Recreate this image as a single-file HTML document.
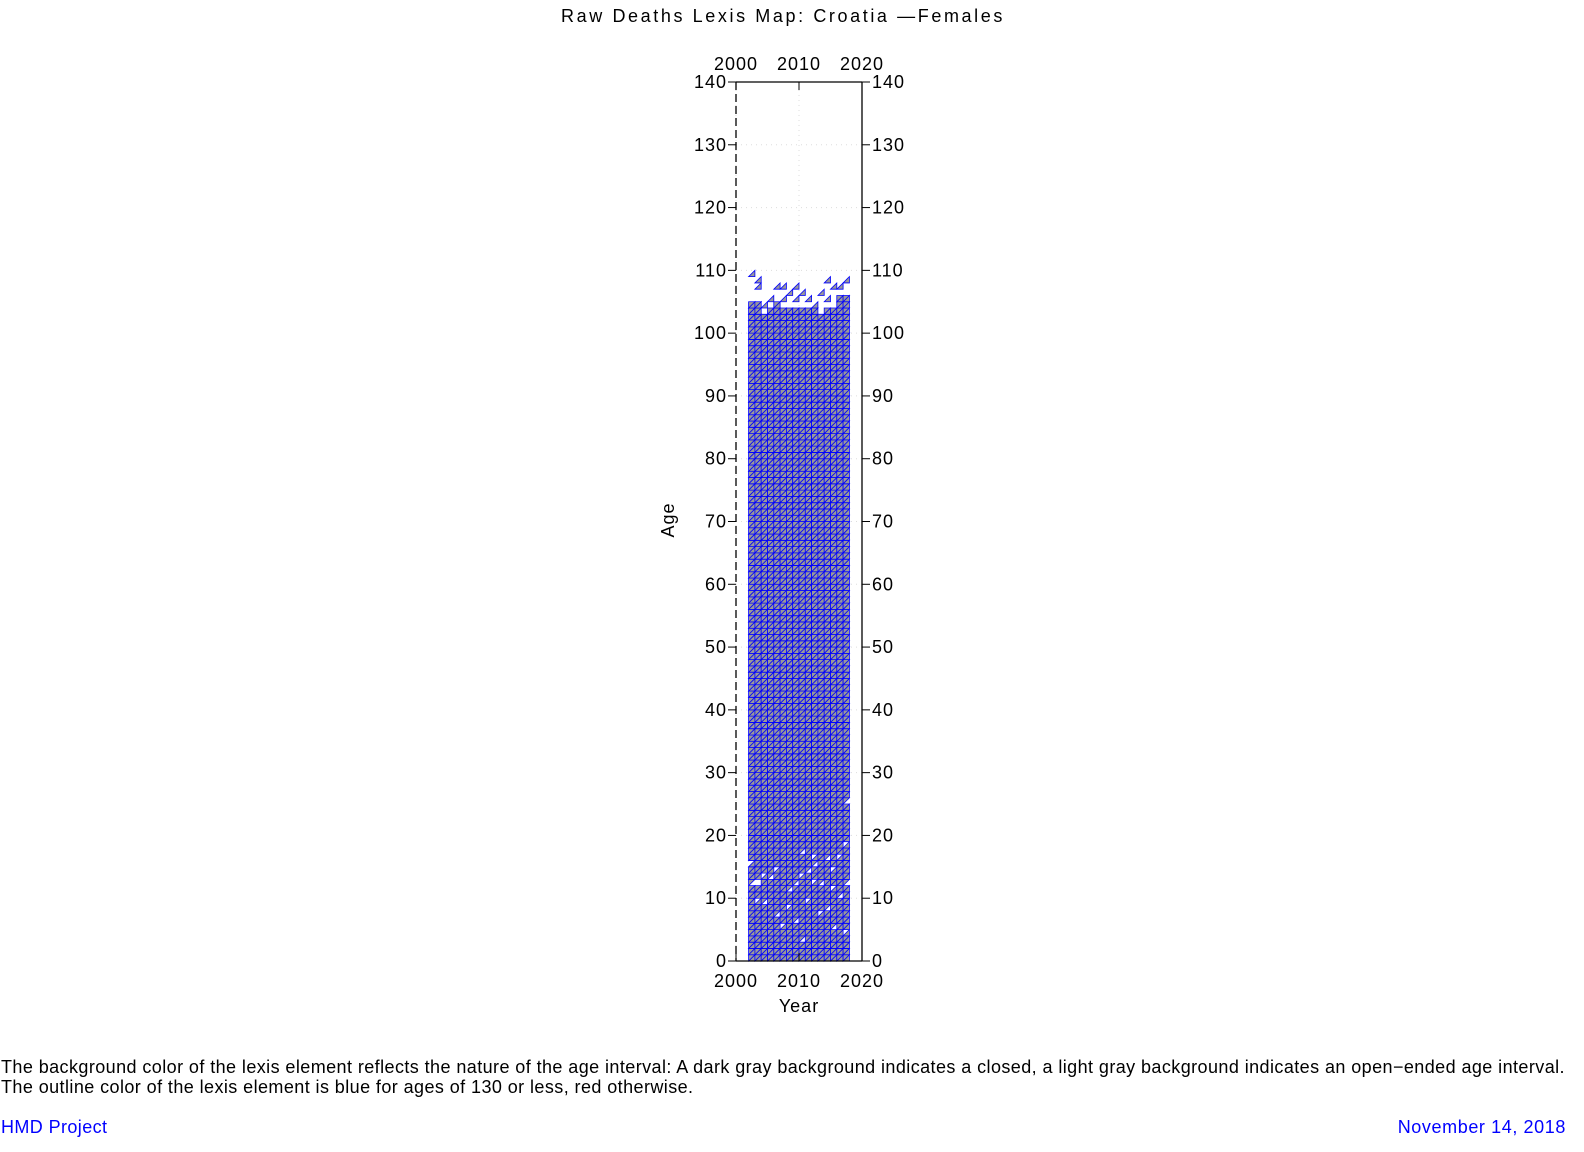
<!DOCTYPE html>
<html><head><meta charset="utf-8">
<style>
body{margin:0;background:#fff;width:1584px;height:1152px;overflow:hidden;font-family:"Liberation Sans",sans-serif;}
svg{position:absolute;left:0;top:0}
text{font-family:"Liberation Sans",sans-serif;font-size:18px;fill:#000;letter-spacing:1px}
</style></head>
<body>
<svg id="chart" width="1584" height="1152" xmlns="http://www.w3.org/2000/svg">
<text x="783" y="22" text-anchor="middle" font-size="19" style="letter-spacing:2.6px">Raw Deaths Lexis Map: Croatia  —Females</text>
<g id="grid"></g>
<g id="cells"></g>
<g id="axes"></g>
<text x="674" y="520" text-anchor="middle" transform="rotate(-90 674 520)">Age</text>
<text x="799" y="1012" text-anchor="middle">Year</text>
<text x="1" y="1073" font-size="17" style="letter-spacing:0.42px">The background color of the lexis element reflects the nature of the age interval: A dark gray background indicates a closed, a light gray background indicates an open−ended age interval.</text>
<text x="1" y="1093" font-size="17" style="letter-spacing:0.42px">The outline color of the lexis element is blue for ages of 130 or less, red otherwise.</text>
<text x="1" y="1133" font-size="17" style="fill:#0000ff;letter-spacing:0.4px">HMD Project</text>
<text x="1566" y="1133" font-size="17" text-anchor="end" style="fill:#0000ff;letter-spacing:0.6px">November 14, 2018</text>
</svg>
<script>
const years=[2002,2003,2004,2005,2006,2007,2008,2009,2010,2011,2012,2013,2014,2015,2016,2017];
const fullTop=[105,105,103,104,105,104,104,104,104,104,104,103,104,104,106,106];
const extraUpper=[[2002,109],[2003,107],[2003,108],[2004,104],[2005,105],[2006,107],[2007,107],[2007,105],[2008,106],[2009,107],[2009,105],[2010,106],[2011,105],[2012,104],[2013,106],[2014,108],[2014,105],[2015,107],[2016,107],[2017,108]];
const missing=[[2002,15,1],[2002,12,0],[2003,12,0],[2003,12,1],[2004,13,1],[2005,13,0],[2006,14,1],[2006,7,0],[2007,5,1],[2008,11,0],[2008,8,1],[2009,12,0],[2009,6,0],[2010,13,1],[2010,3,0],[2011,14,0],[2011,9,1],[2012,15,0],[2012,12,1],[2013,12,0],[2013,7,1],[2014,16,0],[2014,8,0],[2015,14,1],[2015,5,0],[2016,16,1],[2016,10,0],[2017,25,0],[2017,18,1],[2017,12,0],[2017,4,1],[2004,9,0],[2010,17,0],[2012,16,1],[2003,9,1],[2015,11,1]];
const xTicks=[2000,2010,2020];
const yTicks=[0,10,20,30,40,50,60,70,80,90,100,110,120,130,140];
const X0=736,X1=862,Y0=961,Y1=82;
const sx=y=>X0+(y-2000)/20*(X1-X0);
const sy=a=>Y0-a/140*(Y0-Y1);
const NS="http://www.w3.org/2000/svg";
function mk(t,attrs,parent){const e=document.createElementNS(NS,t);for(const k in attrs)e.setAttribute(k,attrs[k]);parent.appendChild(e);return e;}
const grid=document.getElementById('grid'),cells=document.getElementById('cells'),axes=document.getElementById('axes');
yTicks.forEach(a=>{const l=mk('line',{x1:X0,x2:X1,y1:sy(a),y2:sy(a),stroke:'#ddd','stroke-dasharray':'1 4'},grid);

});
xTicks.forEach(y=>{const l=mk('line',{x1:sx(y),x2:sx(y),y1:Y0,y2:Y1,stroke:'#ddd','stroke-dasharray':'1 4'},grid);

});
const miss=new Set(missing.map(m=>m.join(',')));
function tri(y,a,t){
 const xa=sx(y),xb=sx(y+1),ya=sy(a),yb=sy(a+1);
 const pts=t===0?`${xa},${ya} ${xb},${yb} ${xb},${ya}`:`${xa},${ya} ${xa},${yb} ${xb},${yb}`;
 const p=mk('polygon',{points:pts,fill:'#999',stroke:'#0000ff','stroke-width':0.8},cells);
 
 
}
years.forEach((y,i)=>{for(let a=0;a<fullTop[i];a++){for(let t=0;t<2;t++){if(!miss.has([y,a,t].join(',')))tri(y,a,t);}}});
extraUpper.forEach(([y,a])=>tri(y,a,0));
const frame=[[X0,Y1,X1,Y1,''],[X1,Y1,X1,Y0,''],[X0,Y0,X1,Y0,''],[X0,Y1,X0,Y0,'8 4']];
frame.forEach(f=>{const l=mk('line',{x1:f[0],y1:f[1],x2:f[2],y2:f[3],stroke:'#000','stroke-width':1.3,'stroke-dasharray':f[4]},axes);

});
yTicks.forEach(a=>{const y=sy(a);
mk('line',{x1:X0-8,x2:X0,y1:y,y2:y,stroke:'#000'},axes);mk('line',{x1:X1,x2:X1+8,y1:y,y2:y,stroke:'#000'},axes);
const t=mk('text',{x:X0-9,y:y+6,'text-anchor':'end'},axes);t.textContent=a;


const t2=mk('text',{x:X1+10,y:y+6},axes);t2.textContent=a;

});
xTicks.forEach(v=>{const x=sx(v);
mk('line',{x1:x,x2:x,y1:Y0,y2:Y0-8,stroke:'#000'},axes);mk('line',{x1:x,x2:x,y1:Y1,y2:Y1+8,stroke:'#000'},axes);
const t=mk('text',{x:x,y:Y0+26,'text-anchor':'middle'},axes);t.textContent=v;


const t2=mk('text',{x:x,y:Y1-12,'text-anchor':'middle'},axes);t2.textContent=v;

});
</script>
</body></html>
